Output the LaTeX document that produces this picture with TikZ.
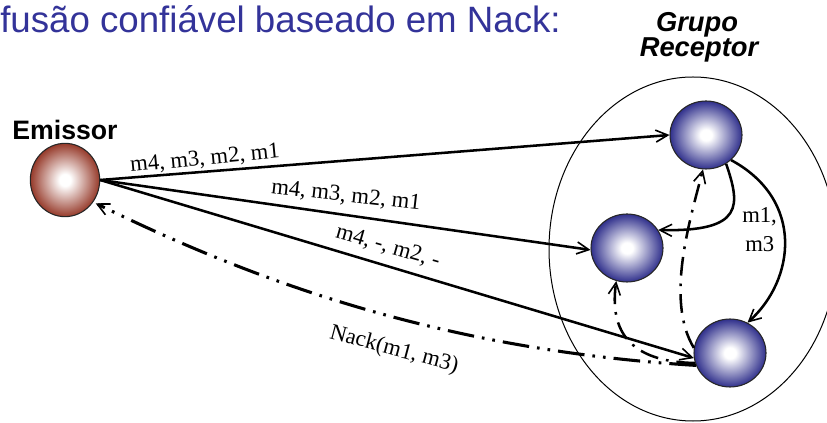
\documentclass[tikz,border=0pt]{standalone}
\usepackage{fontspec}
\setmainfont{Liberation Serif}
\newfontfamily\sansf{Liberation Sans}
\usetikzlibrary{arrows.meta,shapes.geometric}
\definecolor{titleblue}{RGB}{51,51,153}
\definecolor{embrown}{RGB}{150,58,42}
\definecolor{recblue}{RGB}{48,48,140}
\pgfdeclareradialshading{emshade}{\pgfpoint{0bp}{0bp}}{color(0bp)=(white); color(4bp)=(white); color(25bp)=(embrown); color(50bp)=(embrown)}
\pgfdeclareradialshading{recshade}{\pgfpoint{0bp}{0bp}}{color(0bp)=(white); color(4bp)=(white); color(25bp)=(recblue); color(50bp)=(recblue)}
\begin{document}
\begin{tikzpicture}[x=0.75pt,y=-0.75pt,
  ball/.style={ellipse, draw=black!85, line width=0.8pt, shade, inner sep=0pt},
  embal/.style={ball, shading=emshade, minimum width=52pt, minimum height=55pt},
  recbal/.style={ball, shading=recshade, minimum width=54pt, minimum height=51pt},
  tip/.style={-{Straight Barb[length=9pt,width=9pt,line width=1.2pt]}},
  msg/.style={tip, line width=1.9pt},
  lbl/.style={font=\fontsize{17}{17}\selectfont, inner sep=0pt},
  nackline/.style={tip, line width=2.3pt, dash pattern=on 20pt off 6pt on 2pt off 6pt on 2pt off 6pt},
  retx/.style={tip, line width=1.9pt, dash pattern=on 14pt off 6pt on 2pt off 6pt},
  head/.style={font=\sansf\bfseries\fontsize{20}{20}\selectfont, inner sep=0pt, anchor=base},
  ghead/.style={head, font=\sansf\bfseries\itshape\fontsize{20.5}{20.5}\selectfont}
]
\useasboundingbox (0,0) rectangle (827,423);

% title
\node[anchor=base west, text=titleblue, font=\sansf\fontsize{27.5}{27.5}\selectfont, inner sep=0pt] (title) at (0,33) {fusão confiável baseado em Nack:};

% group ellipse
\node[ellipse, draw, line width=0.75pt, minimum width=216pt, minimum height=258pt, inner sep=0pt] (grp) at (693,249) {};

% heads
\node[head] (emlab) at (65,140) {Emissor};
\node[ghead] (g1) at (697,32) {Grupo};
\node[ghead] (g2) at (699,57) {Receptor};

% balls
\node[embal] (em) at (65,180) {};
\node[recbal] (t) at (706,135) {};
\node[recbal] (m) at (627,248) {};
\node[recbal] (b) at (730,353) {};

% messages
\draw[msg] (em.east) -- (t.west);
\draw[msg] (em.east) -- (m.183);
\draw[msg] (em.east) -- (b.188);

\node[lbl, rotate=5.5] (l1) at (205,159) {m4, m3, m2, m1};
\node[lbl, rotate=-6.5] (l2) at (346,196) {m4, m3, m2, m1};
\node[lbl, rotate=-16] (l3) at (388,247) {m4, -, m2, -};

% nack
\draw[nackline, shorten >=2pt] (b.200) .. controls (445,350) and (258,283) .. (em.-38);
\node[lbl, rotate=-15] (nl) at (394,350) {Nack(m1, m3)};

% retransmissions among receivers
\draw[retx] (b.172) .. controls (665,300) and (690,220) .. (t.265);
\draw[retx] (b.196) .. controls (640,362) and (608,340) .. (m.252);
\draw[msg] (t.-55) .. controls (740,205) and (745,232) .. (m.30);
\draw[msg] (t.-45) .. controls (805,200) and (795,280) .. (b.60);

\node[lbl, anchor=base west] (lm1) at (742,223) {m1,};
\node[lbl, anchor=base west] (lm3) at (745,252) {m3};
\end{tikzpicture}
\end{document}
